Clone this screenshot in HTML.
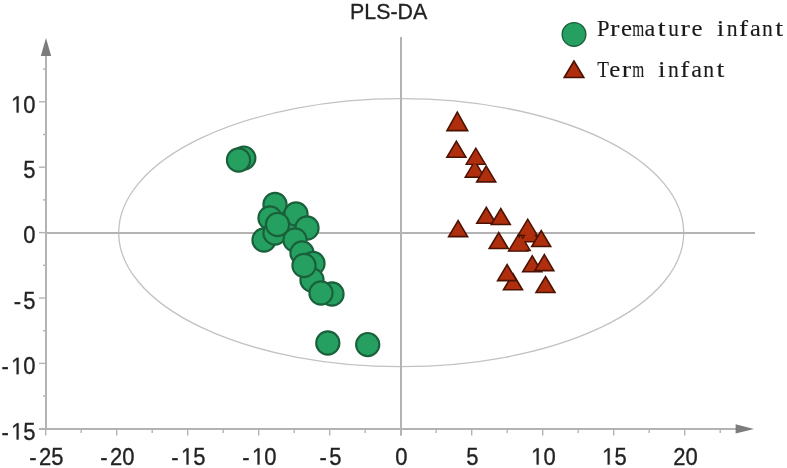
<!DOCTYPE html>
<html><head><meta charset="utf-8"><style>
html,body{margin:0;padding:0;background:#fff;}
body{width:787px;height:468px;overflow:hidden;}
svg{display:block;filter:blur(0.4px);}
text{font-family:"Liberation Sans",sans-serif;fill:#222;stroke:#222;stroke-width:0.3px;}
.lgs{font-family:"Liberation Serif",serif;font-size:23px;fill:#1a1a1a;stroke:#1a1a1a;stroke-width:0.12px;}
</style></head><body>
<svg width="787" height="468" viewBox="0 0 787 468">
<rect width="787" height="468" fill="#fff"/>

<ellipse cx="401.2" cy="232.7" rx="282.5" ry="134" fill="none" stroke="#c2c2c2" stroke-width="1.3"/>
<line x1="46" y1="233" x2="755" y2="233" stroke="#b3b3b3" stroke-width="2"/>
<line x1="401" y1="37" x2="401" y2="435.5" stroke="#b3b3b3" stroke-width="2"/>
<line x1="46" y1="54" x2="46" y2="429" stroke="#b3b3b3" stroke-width="2"/>
<polygon points="46,38 40.8,56 51.2,56" fill="#7c7c7c"/>
<line x1="39" y1="429" x2="738" y2="429" stroke="#b3b3b3" stroke-width="2"/>
<polygon points="754,429 735.6,424.2 735.6,433.6" fill="#7c7c7c"/>
<line x1="45.7" y1="429" x2="45.7" y2="435.5" stroke="#b3b3b3" stroke-width="1.4"/>
<line x1="116.7" y1="429" x2="116.7" y2="435.5" stroke="#b3b3b3" stroke-width="1.4"/>
<line x1="187.7" y1="429" x2="187.7" y2="435.5" stroke="#b3b3b3" stroke-width="1.4"/>
<line x1="258.7" y1="429" x2="258.7" y2="435.5" stroke="#b3b3b3" stroke-width="1.4"/>
<line x1="329.7" y1="429" x2="329.7" y2="435.5" stroke="#b3b3b3" stroke-width="1.4"/>
<line x1="400.7" y1="429" x2="400.7" y2="435.5" stroke="#b3b3b3" stroke-width="1.4"/>
<line x1="471.7" y1="429" x2="471.7" y2="435.5" stroke="#b3b3b3" stroke-width="1.4"/>
<line x1="542.7" y1="429" x2="542.7" y2="435.5" stroke="#b3b3b3" stroke-width="1.4"/>
<line x1="613.7" y1="429" x2="613.7" y2="435.5" stroke="#b3b3b3" stroke-width="1.4"/>
<line x1="684.7" y1="429" x2="684.7" y2="435.5" stroke="#b3b3b3" stroke-width="1.4"/>
<line x1="81.2" y1="429" x2="81.2" y2="433" stroke="#b3b3b3" stroke-width="1.4"/>
<line x1="152.2" y1="429" x2="152.2" y2="433" stroke="#b3b3b3" stroke-width="1.4"/>
<line x1="223.2" y1="429" x2="223.2" y2="433" stroke="#b3b3b3" stroke-width="1.4"/>
<line x1="294.2" y1="429" x2="294.2" y2="433" stroke="#b3b3b3" stroke-width="1.4"/>
<line x1="365.2" y1="429" x2="365.2" y2="433" stroke="#b3b3b3" stroke-width="1.4"/>
<line x1="436.2" y1="429" x2="436.2" y2="433" stroke="#b3b3b3" stroke-width="1.4"/>
<line x1="507.2" y1="429" x2="507.2" y2="433" stroke="#b3b3b3" stroke-width="1.4"/>
<line x1="578.2" y1="429" x2="578.2" y2="433" stroke="#b3b3b3" stroke-width="1.4"/>
<line x1="649.2" y1="429" x2="649.2" y2="433" stroke="#b3b3b3" stroke-width="1.4"/>
<line x1="720.2" y1="429" x2="720.2" y2="433" stroke="#b3b3b3" stroke-width="1.4"/>
<line x1="39" y1="428.8" x2="46" y2="428.8" stroke="#b3b3b3" stroke-width="1.4"/>
<line x1="39" y1="363.4" x2="46" y2="363.4" stroke="#b3b3b3" stroke-width="1.4"/>
<line x1="39" y1="298.0" x2="46" y2="298.0" stroke="#b3b3b3" stroke-width="1.4"/>
<line x1="39" y1="232.6" x2="46" y2="232.6" stroke="#b3b3b3" stroke-width="1.4"/>
<line x1="39" y1="167.2" x2="46" y2="167.2" stroke="#b3b3b3" stroke-width="1.4"/>
<line x1="39" y1="101.8" x2="46" y2="101.8" stroke="#b3b3b3" stroke-width="1.4"/>
<line x1="43" y1="396.1" x2="46" y2="396.1" stroke="#b3b3b3" stroke-width="1.4"/>
<line x1="43" y1="330.7" x2="46" y2="330.7" stroke="#b3b3b3" stroke-width="1.4"/>
<line x1="43" y1="265.3" x2="46" y2="265.3" stroke="#b3b3b3" stroke-width="1.4"/>
<line x1="43" y1="199.9" x2="46" y2="199.9" stroke="#b3b3b3" stroke-width="1.4"/>
<line x1="43" y1="134.5" x2="46" y2="134.5" stroke="#b3b3b3" stroke-width="1.4"/>
<line x1="43" y1="69.1" x2="46" y2="69.1" stroke="#b3b3b3" stroke-width="1.4"/>
<g transform="translate(35.60,439.60) scale(1,1.08)"><text x="-34.20" font-size="22">-</text><path d="M515,0L515,1237L197,1010L197,1180L530,1409L696,1409L696,0Z" transform="translate(-24.47,0) scale(0.010742,-0.010742)" fill="#222" stroke="#222" stroke-width="27.9"/><text x="-12.24" font-size="22">5</text></g>
<g transform="translate(35.60,374.20) scale(1,1.08)"><text x="-34.20" font-size="22">-</text><path d="M515,0L515,1237L197,1010L197,1180L530,1409L696,1409L696,0Z" transform="translate(-24.47,0) scale(0.010742,-0.010742)" fill="#222" stroke="#222" stroke-width="27.9"/><text x="-12.24" font-size="22">0</text></g>
<g transform="translate(35.60,308.80) scale(1,1.08)"><text x="-21.96" font-size="22">-</text><text x="-12.24" font-size="22">5</text></g>
<g transform="translate(35.60,243.40) scale(1,1.08)"><text x="-12.24" font-size="22">0</text></g>
<g transform="translate(35.60,178.00) scale(1,1.08)"><text x="-12.24" font-size="22">5</text></g>
<g transform="translate(35.60,112.60) scale(1,1.08)"><path d="M515,0L515,1237L197,1010L197,1180L530,1409L696,1409L696,0Z" transform="translate(-24.47,0) scale(0.010742,-0.010742)" fill="#222" stroke="#222" stroke-width="27.9"/><text x="-12.24" font-size="22">0</text></g>
<g transform="translate(46.40,464.60) scale(1,1.08)"><text x="-17.10" font-size="22">-</text><text x="-7.37" font-size="22">2</text><text x="4.86" font-size="22">5</text></g>
<g transform="translate(117.40,464.60) scale(1,1.08)"><text x="-17.10" font-size="22">-</text><text x="-7.37" font-size="22">2</text><text x="4.86" font-size="22">0</text></g>
<g transform="translate(188.40,464.60) scale(1,1.08)"><text x="-17.10" font-size="22">-</text><path d="M515,0L515,1237L197,1010L197,1180L530,1409L696,1409L696,0Z" transform="translate(-7.37,0) scale(0.010742,-0.010742)" fill="#222" stroke="#222" stroke-width="27.9"/><text x="4.86" font-size="22">5</text></g>
<g transform="translate(259.40,464.60) scale(1,1.08)"><text x="-17.10" font-size="22">-</text><path d="M515,0L515,1237L197,1010L197,1180L530,1409L696,1409L696,0Z" transform="translate(-7.37,0) scale(0.010742,-0.010742)" fill="#222" stroke="#222" stroke-width="27.9"/><text x="4.86" font-size="22">0</text></g>
<g transform="translate(330.40,464.60) scale(1,1.08)"><text x="-10.98" font-size="22">-</text><text x="-1.25" font-size="22">5</text></g>
<g transform="translate(401.40,464.60) scale(1,1.08)"><text x="-6.12" font-size="22">0</text></g>
<g transform="translate(472.40,464.60) scale(1,1.08)"><text x="-6.12" font-size="22">5</text></g>
<g transform="translate(543.40,464.60) scale(1,1.08)"><path d="M515,0L515,1237L197,1010L197,1180L530,1409L696,1409L696,0Z" transform="translate(-12.24,0) scale(0.010742,-0.010742)" fill="#222" stroke="#222" stroke-width="27.9"/><text x="0.00" font-size="22">0</text></g>
<g transform="translate(614.40,464.60) scale(1,1.08)"><path d="M515,0L515,1237L197,1010L197,1180L530,1409L696,1409L696,0Z" transform="translate(-12.24,0) scale(0.010742,-0.010742)" fill="#222" stroke="#222" stroke-width="27.9"/><text x="0.00" font-size="22">5</text></g>
<g transform="translate(685.40,464.60) scale(1,1.08)"><text x="-12.24" font-size="22">2</text><text x="0.00" font-size="22">0</text></g>
<text transform="translate(388.6,18.5) scale(0.972,1.03)" font-size="22" text-anchor="middle">PLS-DA</text>
<g fill="#25a060" stroke="#1a603a" stroke-width="2.1">
<circle cx="243.8" cy="158.1" r="11.6"/>
<circle cx="238.5" cy="160.0" r="11.6"/>
<circle cx="288" cy="226" r="11.6"/>
<circle cx="275" cy="204.5" r="11.6"/>
<circle cx="296" cy="214" r="11.6"/>
<circle cx="270" cy="218" r="11.6"/>
<circle cx="307" cy="228" r="11.6"/>
<circle cx="264" cy="240" r="11.6"/>
<circle cx="275" cy="233" r="11.6"/>
<circle cx="277.5" cy="224.5" r="11.6"/>
<circle cx="295" cy="240" r="11.6"/>
<circle cx="302" cy="253" r="11.6"/>
<circle cx="313" cy="263.5" r="11.6"/>
<circle cx="312" cy="280" r="11.6"/>
<circle cx="304" cy="265.5" r="11.6"/>
<circle cx="332" cy="294" r="11.6"/>
<circle cx="321" cy="293" r="11.6"/>
<circle cx="327.8" cy="343" r="11.6"/>
<circle cx="367.7" cy="344.6" r="11.6"/>
</g>
<g fill="#ae2e0d" stroke="#4a1202" stroke-width="1.6" stroke-linejoin="miter">
<polygon points="457.30,112.04 446.96,130.60 467.64,130.60"/>
<polygon points="456.40,141.26 446.91,157.20 465.89,157.20"/>
<g>
<polygon points="474.80,161.16 465.31,177.10 484.29,177.10"/>
<polygon points="475.80,148.36 466.31,164.30 485.29,164.30"/>
</g><g stroke="none">
<polygon points="474.80,162.73 466.72,176.30 482.88,176.30"/>
<polygon points="475.80,149.93 467.72,163.50 483.88,163.50"/>
</g>
<polygon points="486.20,165.96 476.71,181.90 495.69,181.90"/>
<polygon points="458.10,220.66 448.61,236.60 467.59,236.60"/>
<polygon points="486.30,207.36 476.81,223.30 495.79,223.30"/>
<polygon points="500.80,208.56 491.31,224.50 510.29,224.50"/>
<polygon points="498.70,232.56 489.21,248.50 508.19,248.50"/>
<g>
<polygon points="530.00,225.86 520.51,241.80 539.49,241.80"/>
<polygon points="527.70,219.36 518.21,235.30 537.19,235.30"/>
<polygon points="520.60,234.46 511.11,250.40 530.09,250.40"/>
<polygon points="518.10,235.06 508.61,251.00 527.59,251.00"/>
</g><g stroke="none">
<polygon points="530.00,227.43 521.92,241.00 538.08,241.00"/>
<polygon points="527.70,220.93 519.62,234.50 535.78,234.50"/>
<polygon points="520.60,236.03 512.52,249.60 528.68,249.60"/>
<polygon points="518.10,236.63 510.02,250.20 526.18,250.20"/>
</g>
<polygon points="541.20,230.56 531.71,246.50 550.69,246.50"/>
<polygon points="513.00,273.86 503.51,289.80 522.49,289.80"/>
<polygon points="507.10,264.66 497.61,280.60 516.59,280.60"/>
<polygon points="532.20,255.86 522.71,271.80 541.69,271.80"/>
<polygon points="544.30,254.66 534.81,270.60 553.79,270.60"/>
<polygon points="545.50,276.56 536.01,292.50 554.99,292.50"/>
</g>
<circle cx="574" cy="34.4" r="11.8" fill="#25a060" stroke="#1a603a" stroke-width="1.4"/>
<g fill="#ae2e0d" stroke="#4a1202" stroke-width="1.6"><polygon points="574.00,60.97 564.20,77.50 583.80,77.50"/></g>
<text transform="translate(603.07,35.90) scale(0.981,1)" x="-6.27" class="lgs">P</text>
<text transform="translate(614.81,35.90) scale(1.229,1)" x="-3.96" class="lgs">r</text>
<text transform="translate(626.55,35.90) scale(1.081,1)" x="-5.15" class="lgs">e</text>
<text transform="translate(638.29,35.90) scale(0.669,1)" x="-9.01" class="lgs">m</text>
<text transform="translate(650.03,35.90) scale(1.057,1)" x="-5.35" class="lgs">a</text>
<text transform="translate(661.77,35.90) scale(1.227,1)" x="-3.24" class="lgs">t</text>
<text transform="translate(673.51,35.90) scale(0.926,1)" x="-5.71" class="lgs">u</text>
<text transform="translate(685.25,35.90) scale(1.229,1)" x="-3.96" class="lgs">r</text>
<text transform="translate(696.99,35.90) scale(1.081,1)" x="-5.15" class="lgs">e</text>
<text transform="translate(720.47,35.90) scale(1.188,1)" x="-3.22" class="lgs">i</text>
<text transform="translate(732.21,35.90) scale(0.941,1)" x="-5.84" class="lgs">n</text>
<text transform="translate(743.95,35.90) scale(1.180,1)" x="-4.18" class="lgs">f</text>
<text transform="translate(755.69,35.90) scale(1.057,1)" x="-5.35" class="lgs">a</text>
<text transform="translate(767.43,35.90) scale(0.941,1)" x="-5.84" class="lgs">n</text>
<text transform="translate(779.17,35.90) scale(1.227,1)" x="-3.24" class="lgs">t</text>
<text transform="translate(603.07,76.90) scale(0.830,1)" x="-7.04" class="lgs">T</text>
<text transform="translate(614.81,76.90) scale(1.081,1)" x="-5.15" class="lgs">e</text>
<text transform="translate(626.55,76.90) scale(1.229,1)" x="-3.96" class="lgs">r</text>
<text transform="translate(638.29,76.90) scale(0.669,1)" x="-9.01" class="lgs">m</text>
<text transform="translate(661.77,76.90) scale(1.188,1)" x="-3.22" class="lgs">i</text>
<text transform="translate(673.51,76.90) scale(0.941,1)" x="-5.84" class="lgs">n</text>
<text transform="translate(685.25,76.90) scale(1.180,1)" x="-4.18" class="lgs">f</text>
<text transform="translate(696.99,76.90) scale(1.057,1)" x="-5.35" class="lgs">a</text>
<text transform="translate(708.73,76.90) scale(0.941,1)" x="-5.84" class="lgs">n</text>
<text transform="translate(720.47,76.90) scale(1.227,1)" x="-3.24" class="lgs">t</text>
</svg>
</body></html>
